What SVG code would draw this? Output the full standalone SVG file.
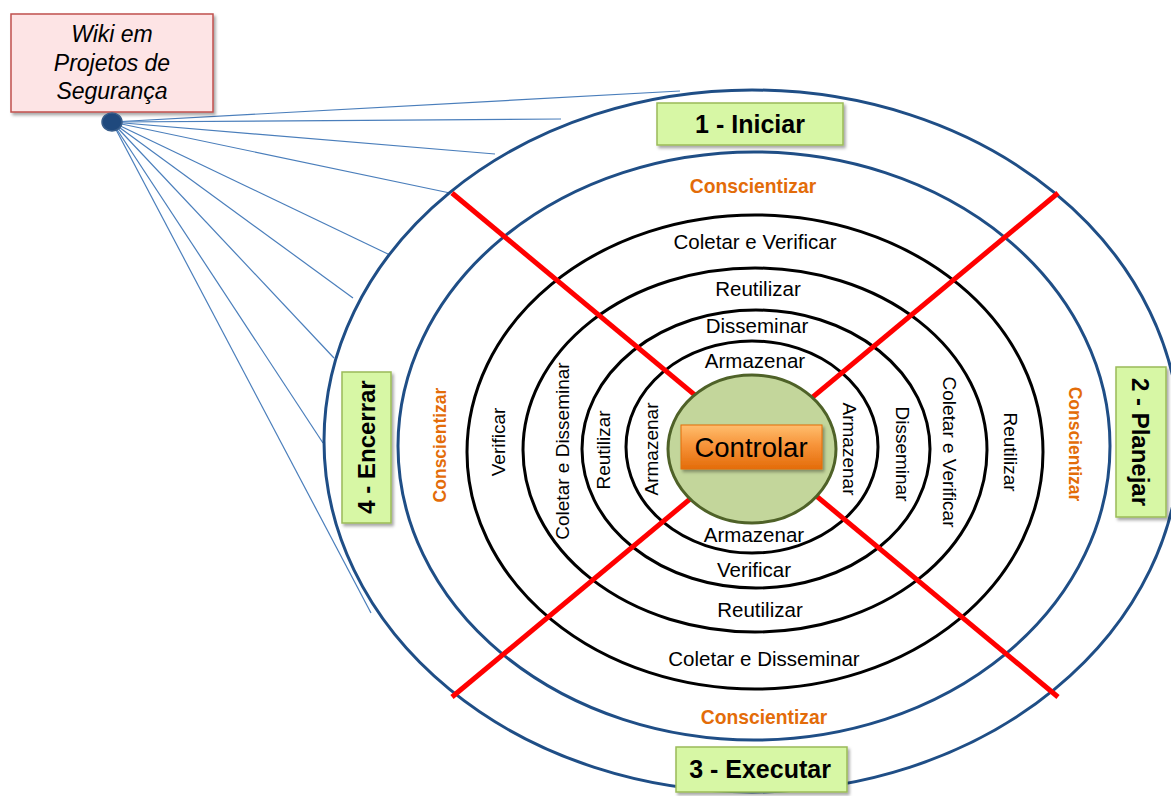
<svg xmlns="http://www.w3.org/2000/svg" width="1171" height="796" viewBox="0 0 1171 796">
  <defs>
    <filter id="shadow" x="-20%" y="-20%" width="140%" height="150%">
      <feDropShadow dx="2" dy="2.5" stdDeviation="1.5" flood-color="#000" flood-opacity="0.35"/>
    </filter>
    <linearGradient id="orangeGrad" x1="0" y1="0" x2="0" y2="1">
      <stop offset="0" stop-color="#ffbe6e"/>
      <stop offset="0.45" stop-color="#f7943a"/>
      <stop offset="1" stop-color="#e46c0a"/>
    </linearGradient>
    <style>
      .blue-ring { fill: none; stroke: #1f4e86; stroke-width: 3; }
      .black-ring { fill: none; stroke: #000; stroke-width: 3; }
      .divider { stroke: #ff0000; stroke-width: 5; }
      .wire { stroke: #4a7ebb; stroke-width: 1.2; fill: none; }
      .phase-box { fill: #d7f7a5; stroke: #9bbb59; stroke-width: 1.5; filter: url(#shadow); }
      .phase-text { font-family: "Liberation Sans", Arial, sans-serif; font-weight: bold; font-size: 25px; fill: #000; text-anchor: middle; }
      .phase-side { font-size: 24px; }
      .ring-text { font-family: "Liberation Sans", Arial, sans-serif; font-size: 20.5px; fill: #000; text-anchor: middle; }
      .ring-side { font-size: 19px; }
      .aware-text { font-family: "Liberation Sans", Arial, sans-serif; font-weight: bold; font-size: 19.3px; fill: #e36c09; text-anchor: middle; }
      .aware-side { font-size: 17.5px; }
      .wiki-text { font-family: "Liberation Sans", Arial, sans-serif; font-style: italic; font-size: 23px; fill: #000; text-anchor: middle; }
    </style>
  </defs>

  <rect width="1171" height="796" fill="#fff"/>

  <!-- Wiki links fanning out to the outer ring -->
  <g id="connectors">
    <line class="wire" x1="112" y1="122" x2="680" y2="91"/>
    <line class="wire" x1="112" y1="122" x2="561" y2="119"/>
    <line class="wire" x1="112" y1="122" x2="495" y2="154"/>
    <line class="wire" x1="112" y1="122" x2="450" y2="193"/>
    <line class="wire" x1="112" y1="122" x2="390" y2="255"/>
    <line class="wire" x1="112" y1="122" x2="353" y2="298"/>
    <line class="wire" x1="112" y1="122" x2="334" y2="358"/>
    <line class="wire" x1="112" y1="122" x2="323" y2="443"/>
    <line class="wire" x1="112" y1="122" x2="371" y2="613"/>
  </g>

  <!-- Concentric rings -->
  <g id="rings">
    <ellipse class="blue-ring" cx="752" cy="441" rx="428" ry="351"/>
    <ellipse class="blue-ring" cx="754" cy="446" rx="356" ry="294"/>
    <ellipse class="black-ring" cx="755" cy="452" rx="288" ry="237"/>
    <ellipse class="black-ring" cx="755" cy="450" rx="232" ry="182"/>
    <ellipse class="black-ring" cx="756" cy="449" rx="174" ry="139"/>
    <ellipse class="black-ring" cx="752" cy="447" rx="126" ry="106"/>
  </g>

  <!-- Quadrant dividers -->
  <g id="dividers">
    <line class="divider" x1="452" y1="193" x2="1058" y2="697"/>
    <line class="divider" x1="1058" y1="193" x2="452" y2="697"/>
  </g>

  <!-- Ring labels: top and bottom -->
  <g id="ring-labels">
    <text class="aware-text" x="753" y="193">Conscientizar</text>
    <text class="ring-text" x="755" y="249">Coletar e Verificar</text>
    <text class="ring-text" x="758" y="296">Reutilizar</text>
    <text class="ring-text" x="757" y="333">Disseminar</text>
    <text class="ring-text" x="755" y="368">Armazenar</text>
    <text class="ring-text" x="754" y="542">Armazenar</text>
    <text class="ring-text" x="754" y="577">Verificar</text>
    <text class="ring-text" x="760" y="617">Reutilizar</text>
    <text class="ring-text" x="764" y="666">Coletar e Disseminar</text>
    <text class="aware-text" x="764" y="724">Conscientizar</text>

    <!-- left side, reading upwards -->
    <text class="aware-text aware-side" transform="translate(446,445) rotate(-90)">Conscientizar</text>
    <text class="ring-text ring-side" transform="translate(505,442) rotate(-90)">Verificar</text>
    <text class="ring-text ring-side" transform="translate(569,451) rotate(-90)">Coletar e Disseminar</text>
    <text class="ring-text ring-side" transform="translate(610,450) rotate(-90)">Reutilizar</text>
    <text class="ring-text ring-side" transform="translate(658,449) rotate(-90)">Armazenar</text>

    <!-- right side, reading downwards -->
    <text class="ring-text ring-side" transform="translate(843,449) rotate(90)">Armazenar</text>
    <text class="ring-text ring-side" transform="translate(896,454) rotate(90)">Disseminar</text>
    <text class="ring-text ring-side" transform="translate(943,452) rotate(90)">Coletar e Verificar</text>
    <text class="ring-text ring-side" transform="translate(1004,452) rotate(90)">Reutilizar</text>
    <text class="aware-text aware-side" transform="translate(1069,444) rotate(90)">Conscientizar</text>
  </g>

  <!-- Central node -->
  <g id="controlar">
    <ellipse cx="752" cy="449" rx="84" ry="74" fill="#c3d69b" stroke="#4f6228" stroke-width="3"/>
    <rect x="681" y="425" width="141" height="44" fill="url(#orangeGrad)" stroke="#e46c0a" stroke-width="1" filter="url(#shadow)"/>
    <text x="751" y="457" font-family="Liberation Sans, Arial, sans-serif" font-size="27.5" text-anchor="middle" fill="#000">Controlar</text>
  </g>

  <!-- Phase nodes -->
  <g id="fase-iniciar">
    <rect class="phase-box" x="657" y="103" width="186" height="42"/>
    <text class="phase-text" x="750" y="133">1 - Iniciar</text>
  </g>
  <g id="fase-planejar">
    <rect class="phase-box" x="1116" y="367" width="50" height="150"/>
    <text class="phase-text phase-side" transform="translate(1132,442) rotate(90)">2 - Planejar</text>
  </g>
  <g id="fase-executar">
    <rect class="phase-box" x="676" y="747" width="171" height="45"/>
    <text class="phase-text" x="760" y="778">3 - Executar</text>
  </g>
  <g id="fase-encerrar">
    <rect class="phase-box" x="342" y="372" width="49" height="151"/>
    <text class="phase-text phase-side" transform="translate(375,447) rotate(-90)">4 - Encerrar</text>
  </g>

  <!-- Wiki node -->
  <g id="wiki">
    <rect x="11" y="14" width="202" height="98" fill="#fde4e5" stroke="#c0504d" stroke-width="1.5" filter="url(#shadow)"/>
    <text class="wiki-text" x="112" y="42">Wiki em</text>
    <text class="wiki-text" x="112" y="71">Projetos de</text>
    <text class="wiki-text" x="112" y="99">Segurança</text>
    <ellipse cx="112" cy="122" rx="10" ry="9" fill="#1f497d" stroke="#385d8a" stroke-width="1.5"/>
  </g>
</svg>
